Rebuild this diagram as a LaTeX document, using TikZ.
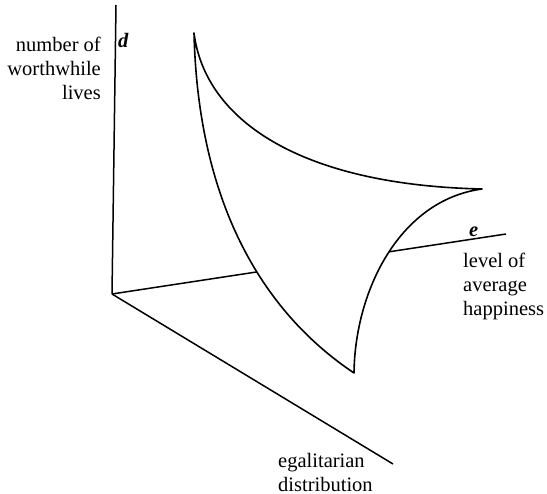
\documentclass[tikz,border=0pt]{standalone}
\usepackage{fontspec}
\setmainfont{Liberation Serif}
\usetikzlibrary{positioning}

\begin{document}
\begin{tikzpicture}[
            x=1pt, y=-1pt,
            axis/.style={line width=1.5pt},
            sheet/.style={line width=1.6pt, line join=round, fill=white},
            lbl/.style={inner sep=0pt, font=\fontsize{20.5}{24}\selectfont},
            axlbl/.style={inner sep=0pt, font=\fontsize{20.5}{24}\selectfont\bfseries\itshape}
        ]
        \useasboundingbox (0,0) rectangle (547,494);
        % axes
        \coordinate (o)  at (112,294);
        \coordinate (dd) at (116,5);
        \coordinate (ee) at (506,234);
        \coordinate (gg) at (393,464);
        \draw[axis] (o) -- (dd);
        \draw[axis] (o) -- (ee);
        \draw[axis] (o) -- (gg);
        % surface
        \coordinate (top) at (194,33);
        \coordinate (tip) at (482,189);
        \coordinate (bot) at (354,373);
        \draw[sheet] (top) .. controls (205,120) and (300,185) .. (tip)
            .. controls (400,200) and (355,290) .. (bot)
            .. controls (260,310) and (198,200) .. (top) -- cycle;
        % labels
        \node[axlbl, anchor=base west] (d) at (118,48) {d};
        \node[axlbl, anchor=base west] (e) at (469,237) {e};
        \node[lbl, align=right, anchor=east] (lives) at (101,68) {number of\\worthwhile\\lives};
        \node[lbl, align=left, anchor=west] (happy) at (463,286) {level of\\average\\happiness};
        \node[lbl, align=left, anchor=west] (egal) at (278,472) {egalitarian\\distribution};
    \end{tikzpicture}
\end{document}
